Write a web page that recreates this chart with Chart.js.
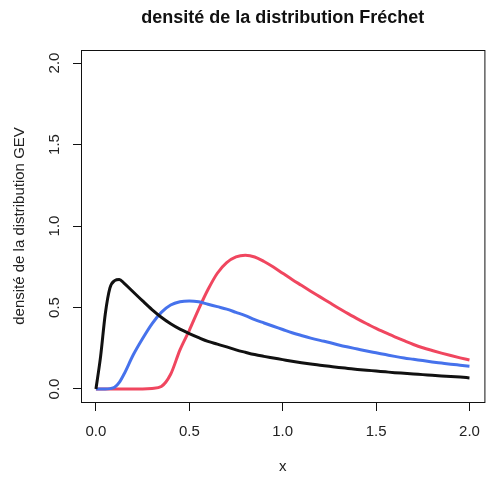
<!DOCTYPE html>
<html>
<head>
<meta charset="utf-8">
<script src="https://cdn.jsdelivr.net/npm/chart.js@4.4.1/dist/chart.umd.min.js"></script>
<style>
  html, body { margin: 0; padding: 0; background: #fff; overflow: hidden; }
  canvas { display: block; }
</style>
</head>
<body>
<canvas id="grafico-gev" width="492" height="477"></canvas>
<script>
const chartTitle = 'densité de la distribution Fréchet';
const xLabel = 'x';
const yLabel = 'densité de la distribution GEV';

const xs = [0, 0.025, 0.05, 0.075, 0.1, 0.125, 0.15, 0.2, 0.25, 0.3, 0.35, 0.4, 0.45, 0.5,
    0.55, 0.6, 0.65, 0.7, 0.75, 0.8, 0.85, 0.9, 0.95, 1.0, 1.05, 1.1, 1.15, 1.2, 1.25, 1.3,
    1.35, 1.4, 1.45, 1.5, 1.55, 1.6, 1.65, 1.7, 1.75, 1.8, 1.85, 1.9, 1.95, 2.0];

const densNoire = [0, 0.2, 0.46, 0.62, 0.665, 0.672, 0.65, 0.595, 0.54, 0.487, 0.44, 0.40, 0.367, 0.34,
    0.315, 0.292, 0.275, 0.258, 0.24, 0.225, 0.211, 0.20, 0.19, 0.18, 0.17, 0.161, 0.153, 0.146, 0.139, 0.132,
    0.126, 0.12, 0.115, 0.11, 0.105, 0.10, 0.096, 0.092, 0.088, 0.084, 0.08, 0.077, 0.073, 0.068];

const densBleue = [0, 0, 0, 0.002, 0.01, 0.04, 0.09, 0.21, 0.31, 0.40, 0.47, 0.515, 0.535, 0.54,
    0.535, 0.52, 0.505, 0.49, 0.47, 0.45, 0.425, 0.405, 0.385, 0.365, 0.345, 0.328, 0.312, 0.298, 0.285, 0.27,
    0.257, 0.245, 0.233, 0.222, 0.211, 0.20, 0.19, 0.182, 0.174, 0.166, 0.159, 0.152, 0.146, 0.14];

const densRouge = [0, 0, 0, 0, 0, 0, 0, 0, 0, 0.003, 0.015, 0.09, 0.24, 0.36,
    0.49, 0.61, 0.71, 0.775, 0.81, 0.82, 0.81, 0.782, 0.748, 0.71, 0.672, 0.636, 0.60, 0.565, 0.53, 0.495,
    0.462, 0.43, 0.40, 0.372, 0.345, 0.32, 0.296, 0.273, 0.253, 0.236, 0.22, 0.205, 0.191, 0.178];

const xTicks = [0, 0.5, 1, 1.5, 2];
const yTicks = [0, 0.5, 1, 1.5, 2];

const police = '"Liberation Sans", Arial, sans-serif';
Chart.defaults.font.family = police;
Chart.defaults.font.size = 15;
Chart.defaults.color = '#222';

// cadre autour du graphique + titre centré sur la zone de tracé (comme R)
const cadre = {
    id: 'cadre',
    afterDraw(chart) {
        const { ctx, chartArea: a } = chart;
        ctx.save();
        ctx.strokeStyle = '#111';
        ctx.lineWidth = 1;
        ctx.strokeRect(a.left + 0.5, a.top + 0.5, a.right - a.left, a.bottom - a.top);
        ctx.font = 'bold 18px ' + police;
        ctx.fillStyle = '#111';
        ctx.textAlign = 'center';
        ctx.textBaseline = 'middle';
        ctx.fillText(chartTitle, (a.left + a.right) / 2, 18);
        ctx.restore();
    }
};

const serie = (vals, color) => ({
    data: xs.map((x, i) => ({ x, y: vals[i] })),
    borderColor: color,
    borderWidth: 3,
    pointRadius: 0,
    fill: false,
    cubicInterpolationMode: 'monotone'
});

new Chart(document.getElementById('grafico-gev'), {
    type: 'line',
    data: {
        datasets: [
            serie(densNoire, '#111111'),
            serie(densBleue, '#4672ec'),
            serie(densRouge, '#f0465f')
        ]
    },
    options: {
        responsive: false,
        animation: false,
        layout: { padding: { top: 50, right: 3, left: 0, bottom: 0 } },
        plugins: { legend: { display: false }, tooltip: { enabled: false } },
        scales: {
            x: {
                type: 'linear',
                min: -0.08,
                max: 2.08,
                afterBuildTicks: s => { s.ticks = xTicks.map(v => ({ value: v })); },
                afterFit: s => { s.height = 75; },
                ticks: { callback: v => v.toFixed(1), padding: 12, maxRotation: 0 },
                grid: { drawOnChartArea: false, tickLength: 9, color: '#111' },
                border: { display: false },
                title: { display: true, text: xLabel, padding: { top: 0, bottom: 1 } }
            },
            y: {
                min: -0.08,
                max: 2.08,
                afterBuildTicks: s => { s.ticks = yTicks.map(v => ({ value: v })); },
                afterFit: s => { s.width = 81; },
                ticks: { callback: v => v.toFixed(1), minRotation: 90, maxRotation: 90, crossAlign: 'center', padding: 8 },
                grid: { drawOnChartArea: false, tickLength: 8, color: '#111' },
                border: { display: false },
                title: { display: true, text: yLabel, padding: { top: 11, bottom: 0 } }
            }
        }
    },
    plugins: [cadre]
});
</script>
</body>
</html>
